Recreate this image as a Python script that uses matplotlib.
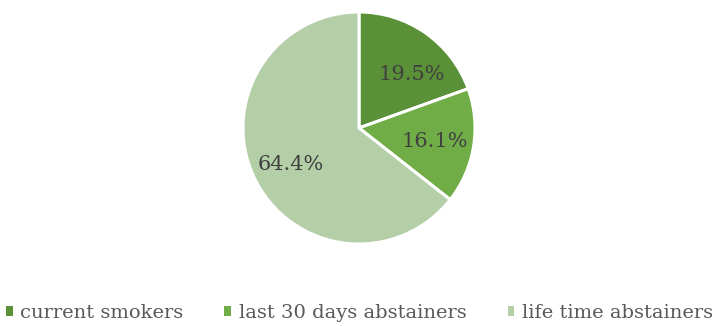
import numpy as np
import matplotlib
matplotlib.use("Agg")
import matplotlib.pyplot as plt
from matplotlib.patches import Patch

categories = ["current smokers", "last 30 days abstainers", "life time abstainers"]
shares = [19.5, 16.1, 64.4]
colors = ["#5A9038", "#70AD47", "#B4CFA8"]

plt.rcParams["font.family"] = ["DejaVu Serif"]

W, H = 719, 326
fig = plt.figure(figsize=(W / 100, H / 100), dpi=100)
cx, cy, r = 359, 128, 116
ax = fig.add_axes([(cx - r) / W, (H - cy - r) / H, 2 * r / W, 2 * r / H])

wedges, _ = ax.pie(shares, colors=colors, startangle=90, counterclock=False,
                   radius=1.0, wedgeprops=dict(edgecolor="white", linewidth=2.2))
ax.set_xlim(-1, 1)
ax.set_ylim(-1, 1)
ax.set_aspect("equal")
ax.axis("off")

# percentage labels placed inside each wedge
angle_shift = [-8.3, 0.0, 1.0]
for w, v, da in zip(wedges, shares, angle_shift):
    mid = np.deg2rad((w.theta1 + w.theta2) / 2 + da)
    d = 0.66
    ax.text(d * np.cos(mid), d * np.sin(mid) - 0.015, f"{v:.1f}%", ha="center", va="center",
            fontsize=15, color="#404040")

handles = [Patch(facecolor=c, edgecolor="none") for c in colors]
fig.legend(handles, categories, loc="center", bbox_to_anchor=(0.5, 1 - 313 / H), ncol=3,
           frameon=False, fontsize=14, labelcolor="#595959", handlelength=0.35,
           handleheight=0.35, handletextpad=0.4, columnspacing=2.1, borderpad=0.1)

fig.savefig("out.png", dpi=100)
